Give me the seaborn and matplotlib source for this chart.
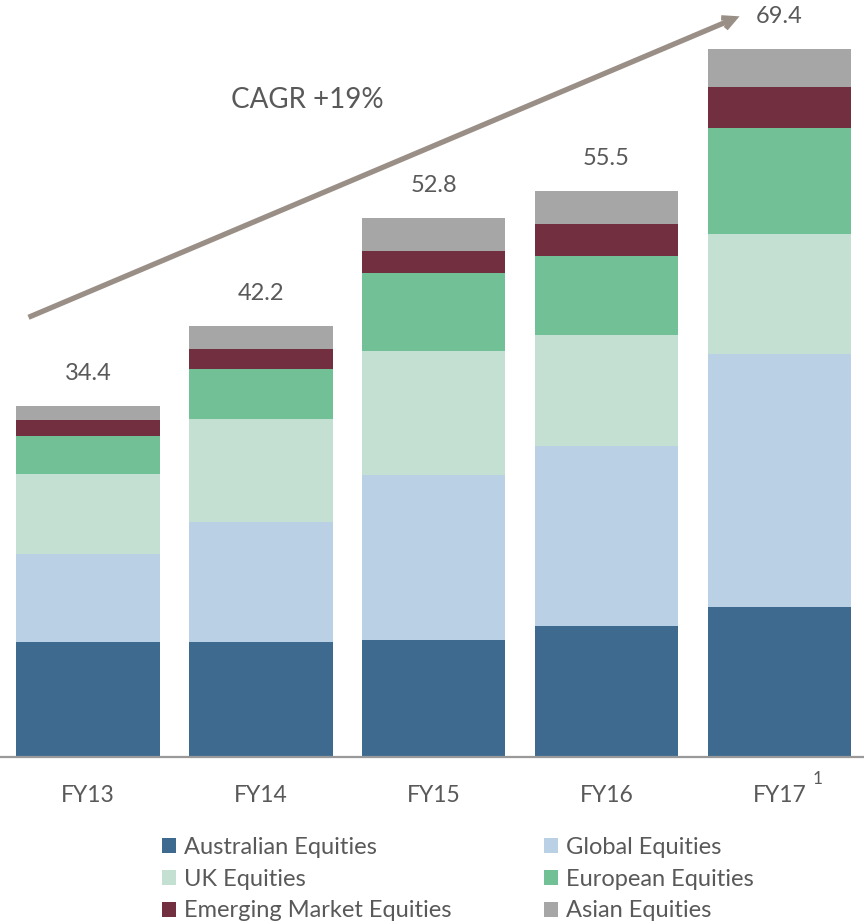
import matplotlib
matplotlib.use("Agg")
import matplotlib.pyplot as plt
from matplotlib.patches import Patch
import seaborn as sns
import numpy as np
import pandas as pd

# Datos del gráfico
years = ["FY13", "FY14", "FY15", "FY16", "FY17"]
totals = [34.4, 42.2, 52.8, 55.5, 69.4]
australian = [11.3, 11.3, 11.5, 12.8, 14.7]
global_eq = [8.6, 11.7, 16.1, 17.7, 24.8]
uk = [7.8, 10.1, 12.2, 10.9, 11.8]
european = [3.8, 4.9, 7.6, 7.7, 10.4]
emerging = [1.5, 2.0, 2.2, 3.1, 4.0]
asian = [1.4, 2.2, 3.2, 3.3, 3.7]

series_names = ["Australian Equities", "Global Equities", "UK Equities",
                "European Equities", "Emerging Market Equities", "Asian Equities"]
colors = ["#3d6a8e", "#bad0e4", "#c4e0d2", "#72c095", "#722f40", "#a6a6a6"]

df = pd.DataFrame({"year": years,
                   series_names[0]: australian,
                   series_names[1]: global_eq,
                   series_names[2]: uk,
                   series_names[3]: european,
                   series_names[4]: emerging,
                   series_names[5]: asian})

sns.set_theme(style="white")
plt.rcParams['font.family'] = ['Lato', 'DejaVu Sans']
text_color = "#595959"

fig = plt.figure(figsize=(8.64, 9.24), dpi=100)
ax = fig.add_axes([0.0, 0.1807, 1.0, 0.8193])

# Barras apiladas
bottom = np.zeros(len(years))
for name, color in zip(series_names, colors):
    sns.barplot(data=df, x="year", y=name, color=color, width=0.83,
                bottom=bottom, ax=ax, saturation=1, linewidth=0)
    bottom = bottom + df[name].values

ax.set_xlim(-0.51, 4.49)
ax.set_ylim(0, 74.2)
ax.set_xlabel("")
ax.set_ylabel("")
ax.set_yticks([])

for side in ["top", "right", "left"]:
    ax.spines[side].set_visible(False)
ax.spines["bottom"].set_color("#999999")
ax.spines["bottom"].set_linewidth(1.6)

ax.tick_params(axis="x", length=0, pad=20, labelsize=16.5, labelcolor=text_color)

# Totales encima de las barras
for i, t in enumerate(totals):
    ax.text(i, t + 3.2, f"{t:.1f}", ha="center", va="center",
            fontsize=17, color=text_color)

# Superíndice de FY17
ax.text(4.22, -2.2, "1", ha="center", va="center", fontsize=12.5,
        color=text_color, clip_on=False)

# Flecha CAGR
ax.annotate("", xy=(3.77, 72.6), xytext=(-0.345, 43.1),
            arrowprops=dict(arrowstyle="->,head_length=0.7,head_width=0.35",
                            color="#9a8f86", lw=3.8, shrinkA=0, shrinkB=0,
                            capstyle="butt", joinstyle="miter"))
ax.text(1.27, 64.4, "CAGR +19%", ha="center", va="center",
        fontsize=20, color=text_color)

# Leyenda (dos columnas)
handles = [Patch(facecolor=c, edgecolor="none") for c in colors]
order = [0, 2, 4, 1, 3, 5]
fig.legend([handles[k] for k in order], [series_names[k] for k in order],
           ncol=2, loc="upper left", bbox_to_anchor=(0.187, 0.094),
           frameon=False, fontsize=17, labelcolor=text_color,
           handlelength=0.6, handleheight=0.6, handletextpad=0.35,
           labelspacing=0.45, columnspacing=3.9, borderpad=0, borderaxespad=0)

fig.savefig("out.png", dpi=100)
plt.close(fig)
